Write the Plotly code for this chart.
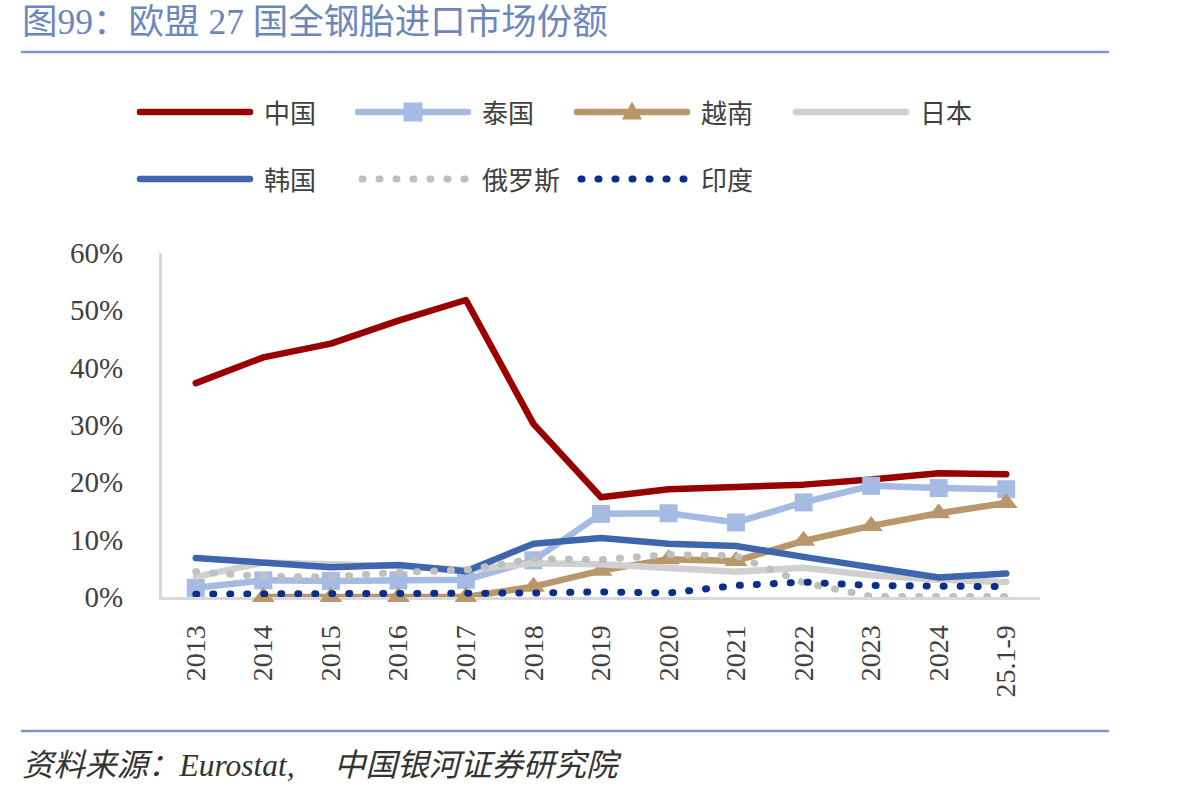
import plotly.graph_objects as go

# ---------------- data (percent) ----------------
categories = ["2013", "2014", "2015", "2016", "2017", "2018", "2019",
              "2020", "2021", "2022", "2023", "2024", "25.1-9"]
china    = [37.3, 41.8, 44.2, 48.2, 51.8, 30.2, 17.4, 18.8, 19.2, 19.6, 20.5, 21.6, 21.4]
thailand = [1.6, 2.9, 2.8, 2.9, 3.0, 6.4, 14.5, 14.6, 13.0, 16.5, 19.4, 19.0, 18.8]
vietnam  = [None, 0.0, 0.0, 0.0, 0.0, 1.8, 4.6, 6.6, 6.3, 9.8, 12.4, 14.6, 16.4]
japan    = [3.5, 6.0, 5.7, 5.4, 4.7, 5.9, 5.7, 5.1, 4.4, 5.1, 3.8, 3.0, 2.6]
korea    = [6.8, 5.9, 5.2, 5.6, 4.5, 9.3, 10.3, 9.3, 8.9, 7.0, 5.3, 3.4, 4.1]
russia   = [4.4, 3.6, 3.5, 4.3, 4.7, 6.7, 6.5, 7.4, 7.2, 2.5, 0.1, 0.1, 0.1]
india    = [0.5, 0.5, 0.5, 0.5, 0.6, 0.7, 0.9, 0.7, 2.0, 2.6, 2.0, 1.9, 1.8]
y_ticks  = [0, 10, 20, 30, 40, 50, 60]
y_labels = ["0%", "10%", "20%", "30%", "40%", "50%", "60%"]

names = ["中国", "泰国", "越南", "日本", "韩国", "俄罗斯", "印度"]
values = [china, thailand, vietnam, japan, korea, russia, india]

# ---------------- styles ----------------
W, H = 1177, 795
def px(x):
    return x / W
def py(y):
    return (H - y) / H

DOT = "1px,16px"
styles = [
    dict(color="#990000", dash="solid", marker=None, msize=0),
    dict(color="#A6BBE4", dash="solid", marker="square", msize=18),
    dict(color="#B9976A", dash="solid", marker="triangle-up", msize=20),
    dict(color="#D0D0D0", dash="solid", marker=None, msize=0),
    dict(color="#3D66AE", dash="solid", marker=None, msize=0),
    dict(color="#BFBFBF", dash=DOT, marker=None, msize=0),
    dict(color="#0A2E8C", dash=DOT, marker=None, msize=0),
]

fig = go.Figure()
for name, vals, st in zip(names, values, styles):
    width = 7 if st["dash"] == DOT else 6.5
    kw = dict(mode="lines")
    if st["marker"]:
        kw = dict(mode="lines+markers",
                  marker=dict(symbol=st["marker"], size=st["msize"], color=st["color"],
                              line=dict(width=0)))
    fig.add_trace(go.Scatter(x=categories, y=vals, name=name,
                             line=dict(color=st["color"], width=width, dash=st["dash"]),
                             connectgaps=False, showlegend=False, cliponaxis=False, **kw))

TXT = "#404040"
SERIF = "Liberation Serif, Noto Sans CJK SC"
CJK = "Noto Sans CJK SC"

shapes = []
annotations = []

# title + rules
annotations.append(dict(x=px(20), y=py(22), xref="paper", yref="paper",
                        text="图99：欧盟 27 国全钢胎进口市场份额", showarrow=False,
                        xanchor="left", yanchor="middle",
                        font=dict(family=SERIF, size=35.5, color="#6E86BE")))
shapes.append(dict(type="line", xref="paper", yref="paper", x0=px(22), x1=px(1108),
                   y0=py(52), y1=py(52), line=dict(color="#7F96C8", width=2.5)))
shapes.append(dict(type="line", xref="paper", yref="paper", x0=px(22), x1=px(1108),
                   y0=py(731), y1=py(731), line=dict(color="#7F96C8", width=2.5)))
annotations.append(dict(x=px(20), y=py(765), xref="paper", yref="paper",
                        text="<i>资料来源：Eurostat,&nbsp;&nbsp;&nbsp;&nbsp;&nbsp;中国银河证券研究院</i>",
                        showarrow=False, xanchor="left", yanchor="middle",
                        font=dict(family=SERIF, size=31.5, color="#333333")))

# custom legend
leg_x = [140, 358, 577, 796, 140, 358, 577]
leg_y = [112, 112, 112, 112, 179, 179, 179]
LINE_LEN = 110
for name, st, lx, ly in zip(names, styles, leg_x, leg_y):
    dotted = st["dash"] == DOT
    shapes.append(dict(type="line", xref="paper", yref="paper",
                       x0=px(lx + (4 if dotted else 0)), x1=px(lx + LINE_LEN),
                       y0=py(ly), y1=py(ly),
                       line=dict(color=st["color"], width=7 if dotted else 6.5,
                                 dash=st["dash"])))
    cx = lx + LINE_LEN / 2
    if st["marker"] == "square":
        s = 9.5
        shapes.append(dict(type="rect", xref="paper", yref="paper",
                           x0=px(cx - s), x1=px(cx + s), y0=py(ly + s), y1=py(ly - s),
                           fillcolor=st["color"], line=dict(width=0)))
    elif st["marker"] == "triangle-up":
        s = 10
        path = "M {},{} L {},{} L {},{} Z".format(
            px(cx), py(ly - s * 1.05), px(cx - s), py(ly + s * 0.75),
            px(cx + s), py(ly + s * 0.75))
        shapes.append(dict(type="path", xref="paper", yref="paper", path=path,
                           fillcolor=st["color"], line=dict(width=0)))
    annotations.append(dict(x=px(lx + LINE_LEN + 12), y=py(ly), xref="paper", yref="paper",
                            text=name, showarrow=False, xanchor="left", yanchor="middle",
                            font=dict(family=CJK, size=26, color=TXT)))

fig.update_layout(
    width=W, height=H, autosize=False,
    margin=dict(l=0, r=0, t=0, b=0),
    paper_bgcolor="white", plot_bgcolor="white",
    shapes=shapes, annotations=annotations,
    showlegend=False,
    xaxis=dict(domain=[px(162), px(1040)], type="category", range=[-0.5, 12.5],
               showline=True, linecolor="#D9D9D9", linewidth=3, showgrid=False,
               layer="below traces",
               ticks="", tickangle=-90, ticklabelstandoff=14, automargin=False,
               tickfont=dict(family=SERIF, size=28, color=TXT)),
    yaxis=dict(domain=[py(597), py(253)], range=[0, 60], tickvals=y_ticks,
               ticktext=y_labels, showline=True, linecolor="#D9D9D9", linewidth=3,
               showgrid=False, zeroline=False, ticks="", ticklabelstandoff=30,
               automargin=False, layer="below traces",
               tickfont=dict(family=SERIF, size=29, color=TXT)),
)

post = """
var gd = document.getElementById('{plot_id}');
function rnd(){
  gd.querySelectorAll('.scatterlayer path.js-line, .shapelayer path').forEach(function(p){
    p.style.strokeLinecap = 'round';
    p.style.strokeLinejoin = 'round';
  });
}
rnd();
gd.on('plotly_afterplot', rnd);
"""
fig.write_html("out.html", post_script=post)
